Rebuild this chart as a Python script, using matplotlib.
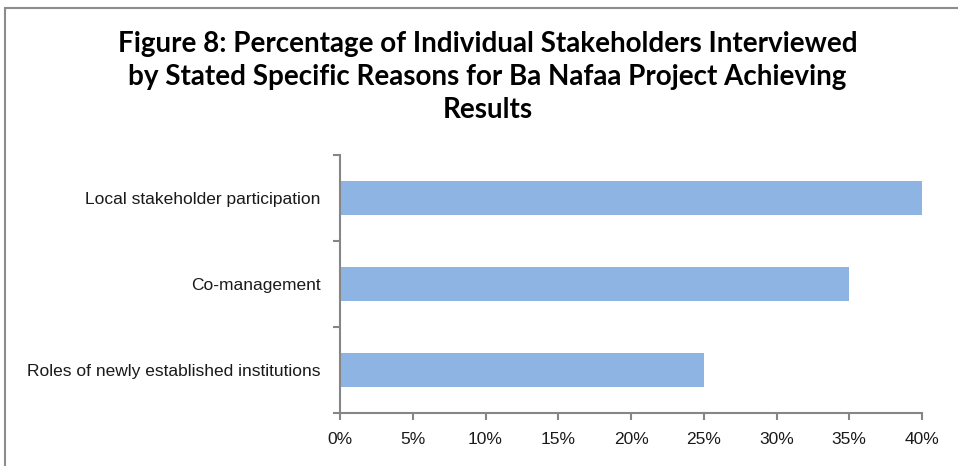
import matplotlib.pyplot as plt
from matplotlib.patches import Rectangle
from matplotlib.ticker import FixedLocator, PercentFormatter
from matplotlib import font_manager

reasons = ["Roles of newly established institutions",
           "Co-management",
           "Local stakeholder participation"]
shares = [25, 35, 40]
xticks = [0, 5, 10, 15, 20, 25, 30, 35, 40]

names = {f.name for f in font_manager.fontManager.ttflist}
label_font = "Liberation Sans Narrow" if "Liberation Sans Narrow" in names else "Liberation Sans"

fig = plt.figure(figsize=(9.58, 4.66), dpi=100)
ax = fig.add_axes([340 / 958, 1 - 413 / 466, 582 / 958, 258 / 466])

grey = "#868686"
ax.barh(range(len(reasons)), shares, height=0.4, color="#8EB4E3")
ax.set_xlim(0, 40)
ax.set_ylim(-0.5, 2.5)

ax.xaxis.set_major_locator(FixedLocator(xticks))
ax.xaxis.set_major_formatter(PercentFormatter(decimals=0))
ax.yaxis.set_major_locator(FixedLocator([-0.5, 0.5, 1.5, 2.5]))
ax.yaxis.set_major_formatter(plt.NullFormatter())
ax.yaxis.set_minor_locator(FixedLocator(range(len(reasons))))
ax.set_yticklabels(reasons, minor=True)
ax.tick_params(axis="y", which="minor", length=0, pad=14)
ax.tick_params(axis="both", which="major", length=5, width=1.5, color=grey)
ax.tick_params(axis="x", pad=9)

for lbl in ax.get_xticklabels() + ax.get_yticklabels(minor=True):
    lbl.set_fontfamily(label_font)
    lbl.set_fontsize(12.5)
    lbl.set_color("#1a1a1a")

for side in ["top", "right"]:
    ax.spines[side].set_visible(False)
for side in ["left", "bottom"]:
    ax.spines[side].set_color(grey)
    ax.spines[side].set_linewidth(1.5)

fig.text(0.509, 1 - 77 / 466,
         "Figure 8: Percentage of Individual Stakeholders Interviewed\n"
         "by Stated Specific Reasons for Ba Nafaa Project Achieving\n"
         "Results",
         ha="center", va="center", fontsize=20, fontweight="bold",
         family="Lato", linespacing=1.32, color="black")

fig.patches.append(Rectangle((4.5 / 958, -0.1), 1.2, 1 - 8 / 466 + 0.1,
                             transform=fig.transFigure, fill=False,
                             edgecolor="#8c8c8c", linewidth=1.5))

fig.savefig("out.png", dpi=100)
